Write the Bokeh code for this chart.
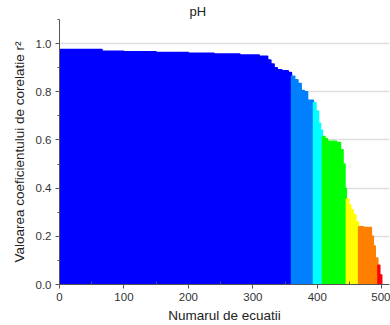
from bokeh.plotting import figure
from bokeh.models import Range1d, FixedTicker, CustomJSTickFormatter
from bokeh.embed import file_html
from bokeh.resources import INLINE

# Sorted r^2 values of the equations as steps: [eq_start, eq_end) -> r2
eq_start = [0, 66, 100, 150, 200, 240, 280, 310, 323, 328, 333, 338, 345, 355,
            360, 365, 370, 375, 380, 385,
            394, 398, 402, 405,
            408, 412, 416, 430, 436, 440, 443,
            445, 449, 452, 456, 460,
            464, 472, 484, 487, 490,
            494, 497]
eq_end = eq_start[1:] + [500]
r2 = [0.976, 0.968, 0.966, 0.963, 0.960, 0.957, 0.953, 0.948, 0.932, 0.915, 0.900, 0.892, 0.887, 0.880,
      0.865, 0.850, 0.835, 0.805, 0.800, 0.765,
      0.755, 0.720, 0.670, 0.640,
      0.615, 0.605, 0.595, 0.590, 0.560, 0.500, 0.400,
      0.355, 0.330, 0.310, 0.290, 0.260,
      0.240, 0.237, 0.200, 0.160, 0.110,
      0.080, 0.040]
# colour groups (equation index boundaries)
group_edges = [0, 360, 394, 408, 445, 464, 494, 500]
palette = ["#0000FF", "#0080FF", "#00FFFF", "#00FF00", "#FFFF00", "#FF8000", "#FF0000"]

x_ticks = [0, 100, 200, 300, 400, 500]
y_ticks = [0.0, 0.2, 0.4, 0.6, 0.8, 1.0]

colors = []
for s in eq_start:
    for gi in range(len(group_edges) - 1):
        if group_edges[gi] <= s < group_edges[gi + 1]:
            colors.append(palette[gi])
            break

FONT = "Liberation Sans"

p = figure(width=390, height=325, output_backend="svg", toolbar_location=None,
           x_range=Range1d(0, 512), y_range=Range1d(0, 1.1),
           min_border_left=59, min_border_right=1, min_border_top=0, min_border_bottom=38)
p.outline_line_color = None
p.background_fill_color = "white"

p.quad(left=eq_start, right=eq_end, bottom=0, top=r2, fill_color=colors,
       line_color=colors, line_width=1.4)

p.xgrid.grid_line_color = None
p.ygrid.grid_line_color = "#dddddd"
p.ygrid.grid_line_width = 1.5

p.xaxis.ticker = FixedTicker(ticks=x_ticks, minor_ticks=[50, 150, 250, 350, 450])
p.yaxis.ticker = FixedTicker(ticks=y_ticks, minor_ticks=[0.1, 0.3, 0.5, 0.7, 0.9, 1.1])
p.yaxis.formatter = CustomJSTickFormatter(code="return tick.toFixed(1);")

for ax in (p.xaxis[0], p.yaxis[0]):
    ax.axis_line_color = "#555555"
    ax.major_tick_line_color = "#555555"
    ax.minor_tick_line_color = "#555555"
    ax.major_tick_out = 4
    ax.major_tick_in = 0
    ax.minor_tick_out = 2
    ax.minor_tick_in = 0
    ax.major_label_text_font = FONT
    ax.major_label_text_font_size = "11.5px"
    ax.major_label_text_color = "#333333"
    ax.axis_label_text_font = FONT
    ax.axis_label_text_font_size = "13.5px"
    ax.axis_label_text_font_style = "normal"
    ax.axis_label_text_color = "#222222"

p.xaxis.minor_tick_out = 0
p.xaxis.minor_tick_in = 3
p.xaxis.axis_label = "Numarul de ecuatii"
p.yaxis.axis_label = "Valoarea coeficientului de corelatie r²"
p.xaxis.axis_label_standoff = 4
p.yaxis.axis_label_standoff = 6
p.xaxis.major_label_standoff = 4
p.yaxis.major_label_standoff = 4

p.title.text = "pH"
p.title.align = "left"
p.title.offset = 130
p.title.standoff = 2
p.title.text_font = FONT
p.title.text_font_size = "13px"
p.title.text_font_style = "normal"
p.title.text_color = "#222222"

open("out.html", "w").write(file_html(p, INLINE))
